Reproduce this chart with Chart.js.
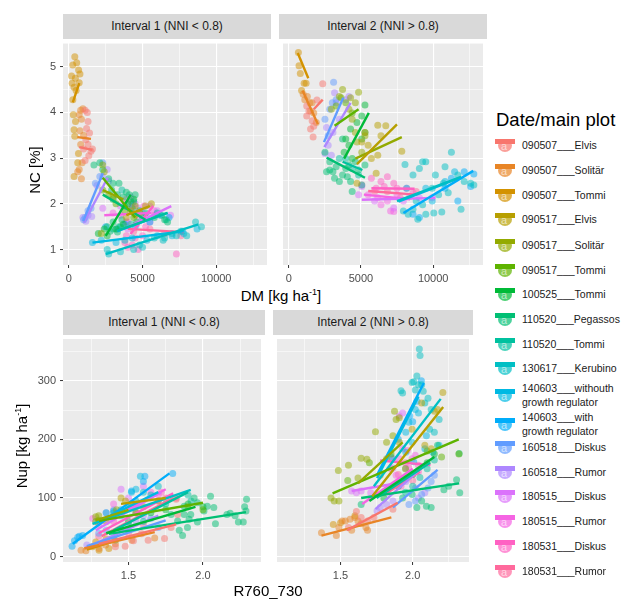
<!DOCTYPE html>
<html>
<head>
<meta charset="utf-8">
<script src="https://cdn.jsdelivr.net/npm/chart.js@4.4.1/dist/chart.umd.min.js"></script>
<style>
  body { margin: 0; background: #fff; font-family: "Liberation Sans", Arial, sans-serif; }
  #wrap { position: relative; width: 624px; height: 599px; overflow: hidden; }
  canvas, .strip, .title, .leg { position: absolute; }
  .strip { background: #D9D9D9; color: #1A1A1A; font-size: 12px; height: 25px; line-height: 25px; text-align: center; }
  .title { color: #000; font-size: 15px; line-height: 15px; white-space: nowrap; }
  .title sup { font-size: 9px; line-height: 0; }
  .rot { transform: translate(-50%, -50%) rotate(-90deg); }
  .hor { transform: translate(-50%, -50%); }
  .leg { left: 522px; font-size: 10.5px; color: #1A1A1A; line-height: 14px; transform: translateY(-50%); white-space: nowrap; }
  .key { position: absolute; left: 495px; width: 20px; height: 16px; }
  .key .bar { position: absolute; left: 0; top: 2px; width: 20px; height: 5px; }
  .key .dot { position: absolute; left: 3px; top: 2px; width: 14px; height: 13px; border-radius: 50%; }
  .key .a { position: absolute; left: 6px; top: 3px; font-size: 11px; line-height: 12px; }
</style>
</head>
<body>
<div id="wrap">
  <div class="strip" style="left:63px;top:14px;width:208px;">Interval 1 (NNI &lt; 0.8)</div>
  <div class="strip" style="left:279px;top:14px;width:208px;">Interval 2 (NNI &gt; 0.8)</div>
  <div class="strip" style="left:63px;top:310px;width:202px;">Interval 1 (NNI &lt; 0.8)</div>
  <div class="strip" style="left:273px;top:310px;width:200px;">Interval 2 (NNI &gt; 0.8)</div>
  <canvas id="ncA" width="271" height="246" style="left:0;top:39px;"></canvas>
  <canvas id="ncB" width="208" height="246" style="left:279px;top:39px;"></canvas>
  <canvas id="nupA" width="265" height="247" style="left:0;top:335px;"></canvas>
  <canvas id="nupB" width="200" height="247" style="left:273px;top:335px;"></canvas>
  <div class="title rot" style="left:34px;top:170px;">NC [%]</div>
  <div class="title hor" style="left:281px;top:295px;">DM [kg ha<sup>-1</sup>]</div>
  <div class="title rot" style="left:21px;top:446px;">Nup [kg ha<sup>-1</sup>]</div>
  <div class="title hor" style="left:268px;top:590px;">R760_730</div>
  <div class="title" style="left:496px;top:110px;font-size:18.5px;line-height:20px;color:#000;">Date/main plot</div>
  <div id="legend"></div>
</div>
<script>
'use strict'
const groups = ['090507___Elvis', '090507___Solitär', '090507___Tommi', '090517___Elvis', '090517___Solitär',
    '090517___Tommi', '100525___Tommi', '110520___Pegassos', '110520___Tommi', '130617___Kerubino',
    '140603___withouth<br>growth regulator', '140603___with<br>growth regulator', '160518___Diskus',
    '160518___Rumor', '180515___Diskus', '180515___Rumor', '180531___Diskus', '180531___Rumor'];

// NC [%] vs DM [kg/ha], interval 1, points per group as x,y pairs
const ncInt1 = [
    [1100,4.05, 1250,4.0, 1300,3.8, 1200,3.65, 1400,3.55, 1150,3.4, 1300,3.3, 1500,3.15, 1600,3.2, 1350,3.05, 1100,2.95, 1000,3.2],
    [800,4.05, 950,4.08, 700,3.95, 850,3.85, 1000,3.5, 800,3.3, 900,2.9, 700,2.75, 850,2.55, 600,2.7, 750,3.6],
    [400,5.22, 265,5.04, 530,5.09, 180,4.8, 660,4.93, 750,4.84, 440,4.75, 220,4.64, 350,4.55, 700,4.65, 490,4.48, 270,4.28, 300,3.95, 450,3.8, 350,3.62, 400,3.48, 650,3.1, 350,2.6, 600,2.9],
    [3900,1.7, 4200,1.85, 4800,1.8, 5200,1.95, 5600,2.0, 4500,1.75],
    [2400,2.7, 2300,2.85, 2200,1.35, 3000,2.15, 4500,1.95],
    [2300,2.3, 2700,2.2, 3200,2.0, 3800,1.85, 4400,1.7],
    [2000,1.35, 2400,1.45, 3200,1.45, 3700,1.55, 4000,2.0, 4400,2.1, 2600,1.3, 3000,2.1],
    [1700,2.85, 2100,2.9, 2300,2.75, 2700,2.55, 3000,2.45, 3400,2.45, 2900,2.3, 3300,2.2, 3700,2.15, 4100,2.2, 4500,2.2, 3800,1.95, 4300,1.9, 3000,1.6, 3500,1.5, 4800,1.85, 5200,1.8, 5800,1.7, 6500,1.65, 2800,1.4, 3300,1.38, 2600,1.5, 6700,1.6, 6300,1.75, 3900,2.25, 4200,2.05, 3600,1.65, 4600,1.6],
    [3400,1.5, 4200,1.55, 5000,1.7, 6000,1.8, 6600,1.65, 3000,1.45, 3600,2.3, 4400,2.05],
    [2600,1.0, 2700,0.9, 3500,0.95, 4400,1.0, 5000,1.05, 5800,1.25, 6400,1.2, 7000,1.35, 7600,1.4, 8000,1.3, 8600,1.6, 9000,1.5, 7300,1.3, 6500,1.25, 4800,1.1, 3800,1.2],
    [1600,1.15, 2200,1.2, 3200,1.15, 4300,1.25, 5300,1.2, 6000,1.3, 7000,1.3, 7800,1.35, 8700,1.45, 7700,1.4],
    [3300,1.45, 3800,1.55, 4500,1.5, 5500,1.6, 6200,1.75, 6800,1.7, 2500,1.5],
    [1100,1.7, 1300,1.85, 1000,1.65, 2300,2.9, 2100,2.6, 1800,2.45, 1500,1.9],
    [950,1.7, 1150,1.62, 1300,1.75, 1550,1.72, 2600,2.75, 2700,2.5, 2300,2.6, 1900,2.4],
    [3500,1.95, 4200,2.15, 4500,2.0, 5000,1.8, 5500,1.95, 6000,1.85, 6900,1.75, 4000,1.45, 2300,1.9, 4300,1.95, 4700,1.9, 5300,1.75, 3900,1.6],
    [3000,1.8, 3500,1.75, 4200,1.9, 4800,1.7, 5500,1.6, 5800,1.85, 4000,1.6, 4600,1.55, 5100,1.95],
    [3800,1.15, 4300,1.1, 4700,1.0, 5000,1.3, 7300,0.9, 4000,1.05, 5200,1.5, 5800,1.75, 3900,1.3, 4500,1.25],
    [4400,1.4, 5500,1.45, 6500,1.35, 7600,1.3, 3900,2.1, 4300,2.0]
];
// fitted lines x1,y1,x2,y2
const ncFit1 = [
    [700,3.24, 1600,3.18], [575,3.46, 1500,3.42], [265,4.22, 708,4.64], [3900,1.75, 5500,1.95],
    [2300,2.3, 3700,2.1], [2300,2.57, 4500,1.7], [2500,1.3, 4200,2.2], [2300,2.2, 5200,1.65],
    [3300,1.41, 6700,1.8], [2500,0.9, 8800,1.55], [1600,1.15, 7800,1.4], [3300,1.4, 6700,1.8],
    [973,1.62, 2300,2.67], [1018,1.59, 2632,2.57], [3960,1.48, 6950,1.95], [2400,1.75, 5600,1.8],
    [4180,1.34, 5730,1.95], [4000,1.45, 7800,1.38]
];

const ncInt2 = [
    [1397,4.03, 1618,3.82, 1508,3.64, 1685,3.46, 1242,4.14, 2350,4.63, 1951,4.27, 1242,3.92, 1729,3.7],
    [1109,4.28, 1286,4.35, 1463,4.21, 1000,4.4, 1508,4.03, 1729,3.99, 1907,3.78, 1618,4.21],
    [665,5.31, 709,5.02, 1064,4.64, 887,4.48, 1200,4.64, 800,4.85],
    [6163,3.72, 6718,3.71, 6385,3.49, 5055,3.35, 5720,2.99, 6163,3.06, 5498,3.28, 7826,3.15, 5276,3.56, 6052,2.67, 4722,2.45],
    [4833,4.44, 4279,4.32, 4611,4.21, 4168,4.07, 4390,3.85, 4722,3.35, 5055,3.13, 5276,3.49, 4611,3.56, 3725,4.5, 3503,4.35, 2949,4.07],
    [3946,4.21, 4390,3.99, 3614,4.32, 3281,4.14],
    [5276,4.16, 5055,3.92, 4722,3.78, 4279,3.64, 5055,3.42, 4168,3.28, 3835,3.13, 4390,2.99, 5276,3.56, 3946,3.42],
    [2505,3.13, 2838,2.92, 3059,2.7, 3725,2.63, 4279,2.49, 3946,2.77, 4390,2.27, 3503,2.49, 4833,2.74, 5276,2.85, 2838,2.74, 3281,2.81, 3725,3.42, 4168,2.85, 4611,2.92, 2616,2.7, 3170,2.56, 4057,2.59],
    [3946,2.99, 4390,2.77, 4833,2.63, 5055,2.41, 3503,2.99],
    [8048,2.86, 9267,2.92, 9489,2.92, 10819,2.81, 11262,3.13, 11928,1.88, 12814,2.41, 12593,2.45, 10154,2.63, 10708,2.45, 11041,2.24, 10375,2.2, 9932,2.34, 8602,2.63, 9045,2.77, 11706,2.63, 12149,2.49, 8824,2.06, 7937,1.84, 8269,1.77, 8934,1.66, 9489,1.77, 10043,1.8, 10597,1.82, 9267,1.98, 8602,1.88],
    [8159,2.34, 9489,2.34, 10819,2.49, 11484,2.7, 9932,2.06],
    [10819,2.34, 11706,2.06, 12593,2.38, 12149,2.7, 12814,2.65, 11262,2.56, 8602,1.77, 9045,1.7],
    [3104,4.66, 3015,4.21, 2505,3.85, 2838,4.07, 3281,4.28, 2727,3.49],
    [3170,4.43, 3281,4.21, 2616,3.67, 2727,3.28, 2949,3.06, 3059,3.56, 3503,3.85, 4168,4.35, 3946,4.28, 2505,3.1],
    [4833,2.2, 5055,2.38, 5942,2.06, 7272,1.91, 7937,2.06, 9045,2.13, 9932,2.13],
    [5498,2.2, 6163,2.13, 6828,2.06, 7050,1.84, 7272,1.83, 6385,1.98, 7493,2.2, 8380,2.16],
    [5720,2.56, 6385,2.49, 6828,2.59, 7272,2.45, 6607,2.38, 7493,2.34, 8159,2.34, 8602,2.24, 6052,2.34],
    [5055,2.41, 5942,2.27, 7715,2.13, 6828,2.27, 8824,2.27]
];
const ncFit2 = [
    [1729,4.07, 2350,4.28], [953,4.48, 2017,3.74], [620,5.3, 1352,4.75], [4722,2.87, 7493,3.74],
    [4611,2.99, 7826,3.46], [3170,3.71, 4833,4.07], [3835,2.99, 5543,3.99], [2616,3.01, 5276,2.57],
    [3725,2.92, 5100,2.74], [7494,2.06, 11928,2.59], [7600,2.05, 11700,2.55], [7937,1.8, 12770,2.72],
    [2439,3.35, 3769,4.32], [2461,3.24, 4279,4.21], [5055,2.09, 10154,2.13], [5200,2.2, 8400,2.1],
    [5720,2.34, 8713,2.33], [5500,2.28, 8800,2.2]
];

// Nup [kg/ha] vs R760_730
const nupInt1 = [
    [1.412,17, 1.478,18, 1.533,27, 1.632,28, 1.742,31, 1.588,39, 1.786,50, 1.83,72, 1.82,98],
    [1.181,11, 1.214,10, 1.302,14, 1.346,20, 1.676,32, 1.522,28, 1.412,22],
    [1.258,17, 1.28,25, 1.368,14, 1.302,11, 1.35,30],
    [1.45,100, 1.48,95, 1.52,90, 1.6,85, 1.7,95],
    [1.3,70, 1.28,68, 1.35,60, 1.42,80],
    [1.3,62, 1.28,60, 1.55,75, 1.9,85, 2.0,80],
    [1.5,60, 1.65,75, 1.9,90, 2.0,85, 1.75,80],
    [1.874,86, 1.941,100, 1.963,92, 1.918,72, 1.963,59, 2.007,78, 2.029,86, 2.051,103, 2.073,84, 2.084,56, 2.161,72, 2.183,74, 2.216,70, 2.238,59, 2.271,59, 2.289,78, 2.28,85, 2.293,98, 1.863,36, 1.896,50, 1.907,64, 1.874,72, 1.83,61, 1.786,72, 1.841,45, 1.41,28],
    [1.45,48, 1.6,60, 1.75,90, 1.9,105, 1.92,95],
    [1.4,75, 1.45,80, 1.55,95, 1.6,110, 1.65,105, 1.7,120, 1.45,70],
    [1.35,75, 1.4,78, 1.5,85, 1.58,137, 1.55,115, 1.52,110],
    [1.121,18, 1.137,27, 1.159,33, 1.192,36, 1.17,35, 1.61,137, 1.797,142, 1.6,128, 1.52,112],
    [1.3,40, 1.5,55, 1.7,50, 1.65,65, 1.35,45],
    [1.22,20, 1.35,75, 1.4,80, 1.6,70, 1.55,60],
    [1.45,115, 1.6,120, 1.5,100, 1.3,55, 1.4,70],
    [1.26,65, 1.4,90, 1.55,85, 1.65,110, 1.7,105],
    [1.4,60, 1.55,75, 1.7,95, 1.72,110, 1.82,100],
    [1.4,30, 1.5,40, 1.6,55, 1.3,35, 1.75,100]
];
const nupFit1 = [
    [1.3,22, 1.82,55], [1.203,14, 1.676,42], [1.22,12, 1.45,30], [1.45,90, 1.75,100],
    [1.28,62, 1.5,80], [1.302,61, 2.0,92], [1.35,40, 1.95,85], [1.368,39, 2.289,76],
    [1.4,45, 1.9,110], [1.258,56, 1.918,114], [1.3,60, 1.7,110], [1.126,22, 1.775,142],
    [1.22,18, 1.75,62], [1.21,15, 1.7,70], [1.28,45, 1.72,110], [1.3,55, 1.75,115],
    [1.3,40, 1.8,108], [1.32,35, 1.8,100]
];

const nupInt2 = [
    [1.61,77, 1.643,67, 1.687,61, 1.555,50, 1.731,67, 1.863,81],
    [1.368,41, 1.471,36, 1.511,61, 1.533,61, 1.566,64, 1.621,61, 1.643,56, 1.687,45, 1.676,50, 1.577,45, 1.599,67, 1.489,50],
    [1.45,55, 1.5,58, 1.6,70],
    [2.209,280, 2.172,251, 2.15,248, 2.062,262, 2.084,190, 2.128,184, 1.996,217, 1.907,195, 1.819,167, 1.775,139],
    [1.434,100, 1.485,147, 1.555,156, 1.643,168, 1.683,166, 1.863,206, 1.885,234, 1.742,213, 1.907,237, 1.874,248, 1.456,95, 1.489,95, 1.621,134, 1.819,195],
    [1.55,130, 1.7,160, 1.85,175, 1.95,150, 2.1,180, 2.2,170, 2.32,175],
    [1.9,120, 2.0,140, 2.1,160, 2.15,175, 1.8,100],
    [2.216,114, 2.249,120, 2.326,109, 2.304,131, 2.322,176, 2.172,190, 2.128,84, 2.029,84, 2.095,86, 2.062,95, 1.643,89, 1.996,106, 1.93,100],
    [2.0,120, 2.05,135, 2.1,150, 1.95,110, 2.15,165],
    [2.046,354, 2.051,343, 2.029,308, 2.007,298, 2.062,293, 2.04,293, 1.996,297, 1.919,283, 1.93,279, 2.018,284, 2.073,282, 2.106,270, 2.084,262, 2.128,251, 2.183,234, 2.15,212, 2.117,217],
    [2.095,206, 2.04,245, 2.018,251, 1.974,229, 1.952,212, 1.996,195, 2.084,184, 2.183,190, 2.139,178, 1.952,178, 2.007,162],
    [1.98,240, 2.0,230, 2.03,265, 1.9,200, 1.85,170, 2.06,300],
    [2.062,106, 2.106,117, 2.128,128, 2.018,95, 1.974,89, 2.15,139],
    [1.753,78, 1.775,84, 1.819,89, 2.04,100, 2.084,109, 2.018,117, 1.952,128, 1.863,95],
    [1.577,112, 1.61,109, 1.643,112, 1.709,109, 1.93,245, 1.907,240, 1.863,151],
    [1.93,184, 1.963,181, 1.996,167, 2.018,173, 1.907,167, 1.885,139, 1.952,151],
    [1.974,151, 2.04,145, 2.04,156, 1.919,120, 1.852,120, 1.863,167],
    [1.85,150, 1.9,140, 2.0,130, 1.95,160]
];
const nupFit2 = [
    [1.544,45, 1.896,92], [1.368,36, 1.852,67], null, [1.72,103, 2.211,255],
    [1.621,125, 1.93,195], [1.445,108, 2.319,200], [1.7,95, 2.15,170], [1.643,100, 2.322,125],
    [1.75,100, 2.12,160], [1.731,120, 2.194,269], [1.753,134, 2.04,273], [1.753,139, 2.077,296],
    [1.863,84, 2.172,148], [1.742,81, 2.084,156], [1.577,112, 1.841,123], [1.65,90, 2.0,150],
    [1.775,164, 2.123,156], [1.8,105, 2.05,145]
];

const dmTicks = [0, 2500, 5000, 7500, 10000, 12500];
const ncTicks = [1, 1.5, 2, 2.5, 3, 3.5, 4, 4.5, 5, 5.5];
const rTicks = [1.25, 1.5, 1.75, 2.0, 2.25];
const nupTicks = [0, 50, 100, 150, 200, 250, 300, 350];

// ggplot default hue palette (hcl, c=100, l=65)
function hcl(h, c, l) {
    const hr = h * Math.PI / 180;
    const U = c * Math.cos(hr), V = c * Math.sin(hr);
    const Xn = 0.95047, Yn = 1, Zn = 1.08883;
    const den = Xn + 15 * Yn + 3 * Zn;
    const un = 4 * Xn / den, vn = 9 * Yn / den;
    const Y = Yn * Math.pow((l + 16) / 116, 3);
    const up = U / (13 * l) + un, vp = V / (13 * l) + vn;
    const X = Y * 9 * up / (4 * vp);
    const Z = Y * (12 - 3 * up - 20 * vp) / (4 * vp);
    let rgb = [
        3.2404542 * X - 1.5371385 * Y - 0.4985314 * Z,
        -0.9692660 * X + 1.8760108 * Y + 0.0415560 * Z,
        0.0556434 * X - 0.2040259 * Y + 1.0572252 * Z
    ];
    return rgb.map(v => {
        v = v <= 0.0031308 ? 12.92 * v : 1.055 * Math.pow(v, 1 / 2.4) - 0.055;
        return Math.round(Math.min(1, Math.max(0, v)) * 255);
    });
}
const colors = groups.map((g, i) => hcl(15 + 20 * i, 100, 65));
const rgba = (c, a) => 'rgba(' + c[0] + ',' + c[1] + ',' + c[2] + ',' + a + ')';

const panelBg = {
    id: 'panelBg',
    beforeDraw(chart) {
        const a = chart.chartArea, ctx = chart.ctx;
        ctx.save();
        ctx.fillStyle = '#EBEBEB';
        ctx.fillRect(a.left, a.top, a.right - a.left, a.bottom - a.top);
        ctx.restore();
    }
};

const font = { family: '"Liberation Sans", Arial, sans-serif', size: 11 };

function axis(range, ticks, isMajor, fmt, showLabels, fixedSize, horizontal) {
    return {
        type: 'linear',
        min: range[0],
        max: range[1],
        afterBuildTicks: s => { s.ticks = ticks.map(v => ({ value: v })); },
        afterFit: s => {
            if (horizontal) s.height = fixedSize; else s.width = fixedSize;
            s.paddingTop = 0; s.paddingBottom = 0; s.paddingLeft = 0; s.paddingRight = 0;
        },
        border: { display: false },
        grid: {
            color: '#FFFFFF',
            lineWidth: c => isMajor(c.tick.value) ? 1.1 : 0.55,
            drawTicks: showLabels,
            tickLength: 3,
            tickWidth: 1,
            tickColor: c => isMajor(c.tick.value) ? '#333333' : 'rgba(0,0,0,0)'
        },
        ticks: {
            display: showLabels,
            autoSkip: false,
            maxRotation: 0,
            padding: 4,
            color: '#4D4D4D',
            font: font,
            callback: v => isMajor(v) ? fmt(v) : ''
        }
    };
}

function drawPanel(id, pts, fits, xAxis, yAxis) {
    let datasets = [];
    fits.forEach((f, i) => {
        if (!f) return;
        datasets.push({
            data: [{ x: f[0], y: f[1] }, { x: f[2], y: f[3] }],
            showLine: true, borderColor: rgba(colors[i], 1), borderWidth: 2.4, pointRadius: 0
        });
    });
    pts.forEach((p, i) => {
        let d = [];
        for (let k = 0; k < p.length; k += 2) d.push({ x: p[k], y: p[k + 1] });
        datasets.push({
            data: d, showLine: false, pointRadius: 3.5, borderWidth: 0,
            backgroundColor: rgba(colors[i], 0.5)
        });
    });
    new Chart(document.getElementById(id), {
        type: 'scatter',
        data: { datasets: datasets },
        options: {
            responsive: false,
            animation: false,
            events: [],
            layout: { padding: 0 },
            plugins: { legend: { display: false }, tooltip: { enabled: false } },
            scales: { x: xAxis, y: yAxis }
        },
        plugins: [panelBg]
    });
}

const dmMajor = v => v % 5000 === 0;
const ncMajor = v => Number.isInteger(v);
const rMajor = v => Math.abs(v * 2 - Math.round(v * 2)) < 1e-6;
const nupMajor = v => v % 100 === 0;
const dmRange = [-400, 13450], ncRange = [0.66, 5.52], rRange = [1.06, 2.39], nupRange = [-9, 371];

drawPanel('ncA', ncInt1, ncFit1,
    axis(dmRange, dmTicks, dmMajor, v => String(v), true, 20, true),
    axis(ncRange, ncTicks, ncMajor, v => String(v), true, 63, false));
drawPanel('ncB', ncInt2, ncFit2,
    axis(dmRange, dmTicks, dmMajor, v => String(v), true, 20, true),
    axis(ncRange, ncTicks, ncMajor, v => String(v), false, 0, false));
drawPanel('nupA', nupInt1, nupFit1,
    axis(rRange, rTicks, rMajor, v => v.toFixed(1), true, 20, true),
    axis(nupRange, nupTicks, nupMajor, v => String(v), true, 63, false));
drawPanel('nupB', nupInt2, nupFit2,
    axis(rRange, rTicks, rMajor, v => v.toFixed(1), true, 20, true),
    axis(nupRange, nupTicks, nupMajor, v => String(v), false, 0, false));

// legend
const legendY = [145, 170, 195, 219, 245, 270, 294, 319, 344, 368, 395, 424, 447, 472, 496, 521, 546, 571];
let html = '';
groups.forEach((g, i) => {
    const c = colors[i];
    html += '<div class="key" style="top:' + (legendY[i] - 8) + 'px">' +
        '<div class="dot" style="background:' + rgba(c, 0.7) + '"></div>' +
        '<div class="bar" style="background:' + rgba(c, 1) + '"></div>' +
        '<div class="a" style="color:' + rgba([255, 255, 255], 0.6) + '">a</div></div>';
    html += '<div class="leg" style="top:' + legendY[i] + 'px">' + g + '</div>';
});
document.getElementById('legend').innerHTML = html;
</script>
</body>
</html>
